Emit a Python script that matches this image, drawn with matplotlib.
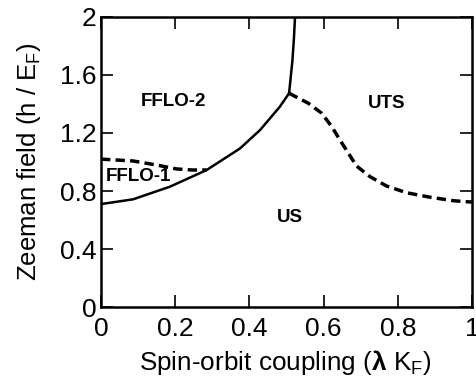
import matplotlib
matplotlib.use('Agg')
import matplotlib.pyplot as plt

plt.rcParams['font.family'] = ['Liberation Sans', 'DejaVu Sans']
plt.rcParams['mathtext.fontset'] = 'custom'
plt.rcParams['mathtext.rm'] = 'Liberation Sans'
plt.rcParams['mathtext.bf'] = 'Liberation Sans:bold'

# solid boundary (lower branch up to the kink)
solid_x = [0.0, 0.043, 0.087, 0.186, 0.285, 0.375, 0.429, 0.482, 0.507]
solid_y = [0.71, 0.726, 0.743, 0.83, 0.945, 1.094, 1.221, 1.381, 1.474]

# nearly vertical branch above the kink
vert_x = [0.507, 0.512, 0.516, 0.52, 0.523]
vert_y = [1.474, 1.6, 1.7, 1.85, 2.0]

# dashed FFLO-1 / FFLO-2 boundary
dash1_x = [0.0, 0.087, 0.15, 0.204, 0.245, 0.285]
dash1_y = [1.02, 1.007, 0.979, 0.952, 0.945, 0.945]

# dashed US / UTS boundary
dash2_x = [0.507, 0.559, 0.595, 0.622, 0.644, 0.667, 0.689, 0.725, 0.77, 0.824, 0.887, 0.95, 0.986, 1.0]
dash2_y = [1.474, 1.405, 1.336, 1.244, 1.152, 1.06, 0.972, 0.899, 0.834, 0.788, 0.757, 0.733, 0.726, 0.724]

phase_names = ['FFLO-2', 'FFLO-1', 'UTS', 'US']
phase_x = [0.195, 0.1, 0.77, 0.51]
phase_y = [1.416, 0.897, 1.405, 0.62]

xticks = [0, 0.2, 0.4, 0.6, 0.8, 1]
xtick_labels = ['0', '0.2', '0.4', '0.6', '0.8', '1']
yticks = [0, 0.4, 0.8, 1.2, 1.6, 2]
ytick_labels = ['0', '0.4', '0.8', '1.2', '1.6', '2']

fig = plt.figure(figsize=(4.77, 3.81), dpi=100)
ax = fig.add_axes([0.2117, 0.1942, 0.7778, 0.7612])

ax.plot(solid_x, solid_y, color='black', lw=1.8, solid_capstyle='butt')
ax.plot(vert_x, vert_y, color='black', lw=1.8)
ax.plot(dash1_x, dash1_y, color='black', lw=2.5, linestyle=(0, (2.7, 1.5)))
ax.plot(dash2_x, dash2_y, color='black', lw=2.5, linestyle=(0, (2.7, 1.5)))

for name, px, py in zip(phase_names, phase_x, phase_y):
    ax.text(px, py, name, ha='center', va='center', fontsize=13.5, fontweight='bold')

ax.set_xlim(0, 1)
ax.set_ylim(0, 2)
ax.set_xticks(xticks)
ax.set_xticklabels(xtick_labels)
ax.set_yticks(yticks)
ax.set_yticklabels(ytick_labels)
ax.tick_params(direction='in', length=8.5, width=1.2, top=True, right=True, labelsize=19)
ax.tick_params(axis='x', pad=7)
ax.tick_params(axis='y', pad=3)
for sp in ax.spines.values():
    sp.set_linewidth(1.8)

ax.set_xlabel('Spin-orbit coupling ($\\mathbf{\u03bb}$ K$_\\mathrm{F}$)', fontsize=18.8)
ax.set_ylabel('Zeeman field (h / E$_\\mathrm{F}$)', fontsize=18.5)
ax.xaxis.set_label_coords(0.496, -0.19)
ax.yaxis.set_label_coords(-0.193, 0.5)
ax.xaxis.label.set_va('center')
ax.yaxis.label.set_va('center')

fig.savefig('out.png', dpi=100)
